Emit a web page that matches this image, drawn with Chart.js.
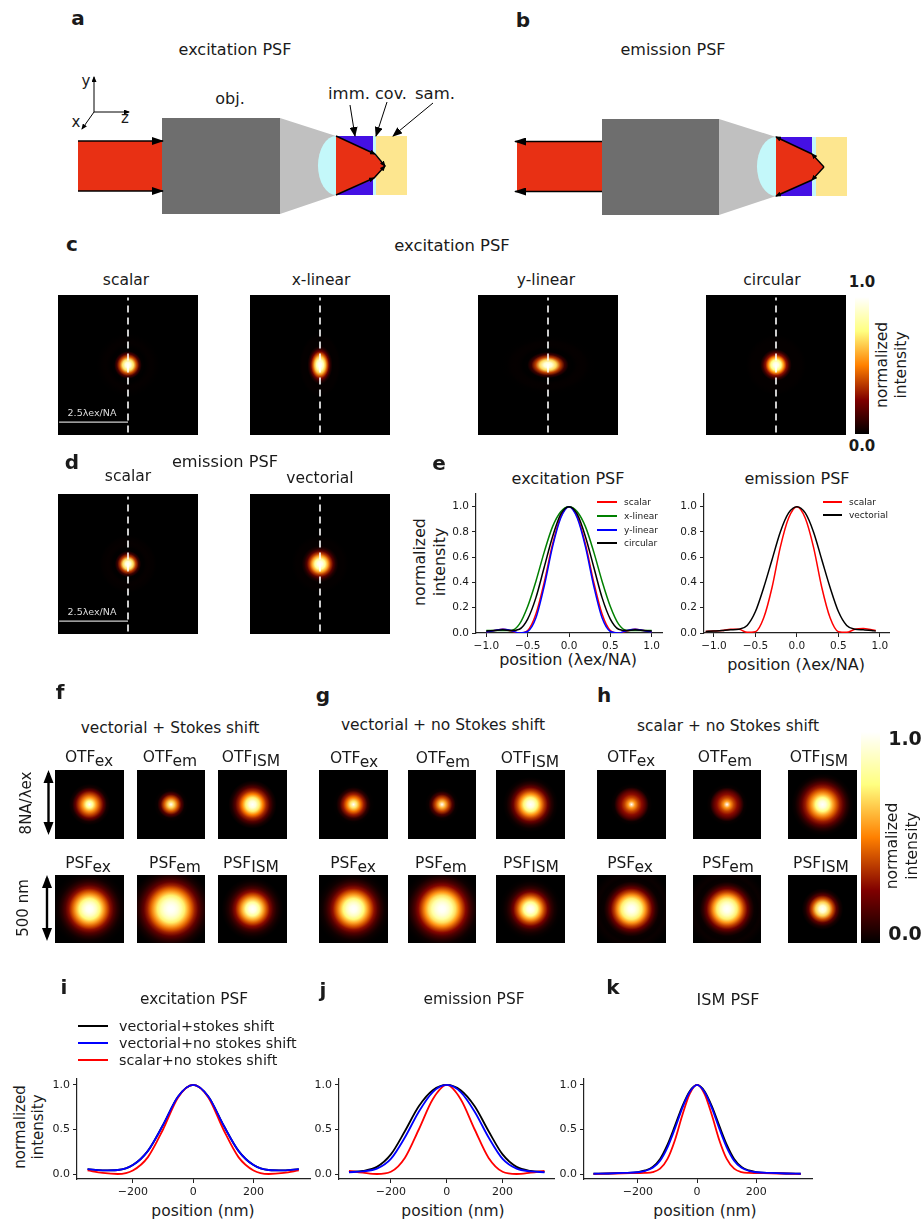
<!DOCTYPE html>
<html lang="en">
<head>
  <meta charset="UTF-8" />
  <title>PSF figure</title>
  <script src="https://cdn.jsdelivr.net/npm/chart.js"></script>
  <style>
    html, body { margin: 0; padding: 0; background: #fff; }
    body { font-family: 'DejaVu Sans', sans-serif; color: #1a1a1a; }
    #fig { position: relative; width: 924px; height: 1222px; overflow: hidden; }
    #fig canvas, #fig svg { position: absolute; }
    .t { position: absolute; white-space: nowrap; transform: translate(-50%, -50%); line-height: 1; }
    .sub { position: relative; top: 4px; }
    .swatch { position: absolute; }
  </style>
</head>
<body>
<div id="fig">
  <svg width="924" height="240" style="left:0;top:0">
    <defs>
      <marker id="head" markerWidth="10" markerHeight="8" refX="9" refY="4" orient="auto" markerUnits="userSpaceOnUse">
        <path d="M0,0 L10,4 L0,8 Z" fill="#000"/>
      </marker>
      <marker id="small" markerWidth="6" markerHeight="5" refX="5" refY="2.5" orient="auto" markerUnits="userSpaceOnUse">
        <path d="M0,0 L6,2.5 L0,5 Z" fill="#000"/>
      </marker>
      <marker id="big" markerWidth="12" markerHeight="8" refX="11" refY="4" orient="auto" markerUnits="userSpaceOnUse">
        <path d="M0,0 L12,4 L0,8 Z" fill="#000"/>
      </marker>
    </defs>
    <!-- a -->
    <rect x="78" y="141" width="84" height="50" fill="#e83014"/>
    <polygon points="280,118 336,136 336,195 280,214" fill="#c0c0c0"/>
    <rect x="162" y="118" width="118" height="96" fill="#6e6e6e"/>
    <path d="M336,136 A18,29.5 0 0 0 336,195 Z" fill="#c4f8fa"/>
    <rect x="336" y="136" width="37" height="59" fill="#4410e4"/>
    <rect x="373" y="136" width="3" height="59" fill="#c4f8fa"/>
    <rect x="376" y="136" width="31" height="59" fill="#fde68f"/>
    <polygon points="336,136 374,154 385,166 374,179 336,195" fill="#e83014"/>
    <g stroke="#000" stroke-width="1.4" fill="none">
      <line x1="78" y1="141" x2="163" y2="141" marker-end="url(#big)"/>
      <line x1="78" y1="191" x2="163" y2="191" marker-end="url(#big)"/>
      <polyline points="336,136 375,154" marker-end="url(#small)"/>
      <polyline points="375,154 385,166" marker-end="url(#small)"/>
      <polyline points="336,195 374,178" marker-end="url(#small)"/>
      <polyline points="374,178 385,166" marker-end="url(#small)"/>
    </g>
    <g stroke="#000" stroke-width="1" fill="none">
      <line x1="94" y1="112" x2="94" y2="77" marker-end="url(#small)"/>
      <line x1="94" y1="112" x2="129" y2="112" marker-end="url(#small)"/>
      <line x1="94" y1="112" x2="82" y2="129" marker-end="url(#small)"/>
      <line x1="350" y1="105" x2="355" y2="136" marker-end="url(#head)"/>
      <line x1="387" y1="102" x2="376" y2="136" marker-end="url(#head)"/>
      <line x1="433" y1="103" x2="393" y2="136" marker-end="url(#head)"/>
    </g>
    <!-- b -->
    <rect x="517" y="141" width="85" height="51" fill="#e83014"/>
    <polygon points="719,119 776,137 776,196 719,215" fill="#c0c0c0"/>
    <rect x="602" y="119" width="117" height="96" fill="#6e6e6e"/>
    <path d="M776,137 A19,29.5 0 0 0 776,196 Z" fill="#c4f8fa"/>
    <rect x="776" y="137" width="36" height="59" fill="#4410e4"/>
    <rect x="812" y="137" width="4" height="59" fill="#c4f8fa"/>
    <rect x="816" y="137" width="31" height="59" fill="#fde68f"/>
    <polygon points="776,137 812,154 824,167 812,180 776,196" fill="#e83014"/>
    <g stroke="#000" stroke-width="1.4" fill="none">
      <line x1="602" y1="141.5" x2="515" y2="141.5" marker-end="url(#big)"/>
      <line x1="602" y1="191.5" x2="515" y2="191.5" marker-end="url(#big)"/>
      <polyline points="824,167 812,154" marker-end="url(#small)"/>
      <polyline points="812,154 776,137" marker-end="url(#small)"/>
      <polyline points="824,167 812,180" marker-end="url(#small)"/>
      <polyline points="812,180 776,196" marker-end="url(#small)"/>
    </g>
  </svg>
  <!-- setas duplas do painel f -->
  <svg width="60" height="190" style="left:20px;top:760px">
    <g stroke="#000" stroke-width="2.4" fill="none">
      <line x1="28.5" y1="13" x2="28.5" y2="72"/>
      <line x1="27" y1="118" x2="27" y2="177"/>
    </g>
    <g fill="#000">
      <path d="M28.5,10 L23.5,23 L33.5,23 Z"/>
      <path d="M28.5,75 L23.5,62 L33.5,62 Z"/>
      <path d="M27,115 L22,128 L32,128 Z"/>
      <path d="M27,181 L22,168 L32,168 Z"/>
    </g>
  </svg>
</div>

<script>
  // perfis de linha, painel e
  const posE = [-1.0,-0.9,-0.8,-0.7,-0.6,-0.5,-0.4,-0.3,-0.2,-0.1,0,0.1,0.2,0.3,0.4,0.5,0.6,0.7,0.8,0.9,1.0];
  const exScalar  = [0.01,0.02,0.03,0.015,0,0.02,0.15,0.40,0.70,0.92,1,0.92,0.70,0.40,0.15,0.02,0,0.015,0.03,0.02,0.01];
  const exXLinear = [0.02,0.02,0.02,0.02,0.07,0.21,0.41,0.64,0.84,0.96,1,0.96,0.84,0.64,0.41,0.21,0.07,0.02,0.02,0.02,0.02];
  const exYLinear = [0.008,0.02,0.03,0.02,0,0.012,0.12,0.37,0.68,0.91,1,0.91,0.68,0.37,0.12,0.012,0,0.02,0.03,0.02,0.008];
  const exCircular = [0.015,0.02,0.025,0.02,0.03,0.11,0.28,0.52,0.76,0.94,1,0.94,0.76,0.52,0.28,0.11,0.03,0.02,0.025,0.02,0.015];

  const posEm = [-1.1,-1.0,-0.9,-0.8,-0.7,-0.6,-0.5,-0.4,-0.3,-0.2,-0.1,0,0.1,0.2,0.3,0.4,0.5,0.6,0.7,0.8,0.9,0.95];
  const emScalar = [0.012,0.015,0.02,0.03,0.03,0.005,0.01,0.12,0.36,0.68,0.91,1,0.91,0.68,0.36,0.12,0.01,0.005,0.03,0.035,0.025,0.02];
  const emVectorial = [0.012,0.015,0.02,0.025,0.03,0.06,0.17,0.36,0.58,0.80,0.95,1,0.95,0.80,0.58,0.36,0.17,0.06,0.03,0.025,0.02,0.015];

  const ticksEX = [-1,-0.5,0,0.5,1];
  const ticksEY = [0,0.2,0.4,0.6,0.8,1];

  // paineis i, j, k
  const posNm = [-350,-300,-250,-200,-150,-100,-50,0,50,100,150,200,250,300,350];
  const iVecStokes = [0.055,0.04,0.045,0.10,0.26,0.55,0.87,1,0.87,0.55,0.26,0.10,0.045,0.04,0.055];
  const iVecNoStokes = [0.055,0.04,0.045,0.10,0.26,0.55,0.87,1,0.87,0.55,0.26,0.10,0.045,0.04,0.055];
  const iScalar = [0.04,0.012,0,0.04,0.19,0.50,0.86,1,0.86,0.50,0.19,0.04,0,0.012,0.04];

  const jVecStokes = [0.025,0.035,0.08,0.22,0.48,0.76,0.94,1,0.94,0.76,0.48,0.22,0.08,0.035,0.025];
  const jVecNoStokes = [0.02,0.03,0.06,0.17,0.41,0.70,0.92,1,0.92,0.70,0.41,0.17,0.06,0.03,0.02];
  const jScalar = [0.035,0.015,0,0.025,0.18,0.50,0.84,1,0.84,0.50,0.18,0.025,0,0.015,0.035];

  const posNmK = [-350,-300,-250,-200,-175,-150,-125,-100,-75,-50,-25,0,25,50,75,100,125,150,175,200,250,300,350];
  const kVecStokes = [0.003,0.006,0.012,0.022,0.04,0.08,0.17,0.33,0.54,0.76,0.93,1,0.93,0.76,0.54,0.33,0.17,0.08,0.04,0.022,0.012,0.006,0.003];
  const kVecNoStokes = [0.003,0.006,0.012,0.02,0.035,0.07,0.15,0.30,0.51,0.74,0.92,1,0.92,0.74,0.51,0.30,0.15,0.07,0.035,0.02,0.012,0.006,0.003];
  const kScalar = [0.002,0.004,0.008,0.01,0.012,0.022,0.06,0.17,0.38,0.66,0.90,1,0.90,0.66,0.38,0.17,0.06,0.022,0.012,0.01,0.008,0.004,0.002];

  const ticksNmX = [-200,0,200];
  const ticksNmY = [0,0.5,1];

  // perfis radiais das imagens f, g, h (raio de 0 a ... em passos de 0.1 da meia largura)
  const fOtfEx  = [1,0.78,0.55,0.38,0.20,0.04,0];
  const fOtfEm  = [1,0.66,0.42,0.17,0.02,0];
  const fOtfIsm = [1,0.92,0.72,0.50,0.32,0.16,0.05,0];
  const fPsfEx  = [1,0.97,0.88,0.74,0.58,0.42,0.28,0.16,0.08,0.03,0.01,0];
  const fPsfEm  = [1,0.98,0.93,0.84,0.72,0.58,0.44,0.31,0.19,0.11,0.05,0.02,0];
  const fPsfIsm = [1,0.95,0.80,0.60,0.42,0.27,0.14,0.06,0.02,0];

  const gOtfEx  = [1,0.70,0.48,0.30,0.10,0.01,0];
  const gOtfEm  = [1,0.60,0.38,0.15,0.02,0];
  const gOtfIsm = [1,0.92,0.74,0.54,0.36,0.20,0.08,0.02,0];
  const gPsfEx  = [1,0.97,0.88,0.74,0.58,0.42,0.28,0.16,0.08,0.03,0.01,0];
  const gPsfEm  = [1,0.98,0.92,0.82,0.69,0.54,0.39,0.26,0.15,0.08,0.03,0.01,0];
  const gPsfIsm = [1,0.94,0.78,0.57,0.38,0.22,0.10,0.04,0.01,0];

  const hOtfEx  = [1,0.55,0.38,0.27,0.16,0.02,0];
  const hOtfEm  = [1,0.55,0.38,0.27,0.16,0.02,0];
  const hOtfIsm = [1,0.93,0.76,0.58,0.43,0.30,0.18,0.08,0.02,0];
  const hPsfEx  = [1,0.96,0.86,0.72,0.55,0.37,0.21,0.09,0.02,0.01,0.02,0.01,0];
  const hPsfEm  = [1,0.96,0.86,0.72,0.55,0.37,0.21,0.09,0.02,0.01,0.02,0.01,0];
  const hPsfIsm = [1,0.90,0.66,0.40,0.18,0.05,0];

  const barLevels = [0,0.25,0.5,0.75,1];

  Chart.defaults.font.family = "'DejaVu Sans', sans-serif";
  Chart.defaults.color = "#1a1a1a";
  Chart.defaults.animation = false;

  const fig = document.getElementById("fig");

  function novoCanvas(left, top, w, h) {
    const c = document.createElement("canvas");
    c.width = w; c.height = h;
    c.style.left = left + "px";
    c.style.top = top + "px";
    c.style.width = w + "px";
    c.style.height = h + "px";
    fig.appendChild(c);
    return c;
  }

  function texto(html, x, y, size, opts = {}) {
    const d = document.createElement("div");
    d.className = "t";
    d.innerHTML = html;
    d.style.left = x + "px";
    d.style.top = y + "px";
    d.style.fontSize = size + "px";
    if (opts.bold) d.style.fontWeight = "bold";
    if (opts.color) d.style.color = opts.color;
    if (opts.rot) d.style.transform = "translate(-50%, -50%) rotate(" + opts.rot + "deg)";
    fig.appendChild(d);
  }

  // mapa de cores afmhot
  function afmhot(v) {
    const c = a => Math.round(255 * Math.max(0, Math.min(1, a)));
    return `rgb(${c(2 * v)},${c(2 * v - 0.5)},${c(2 * v - 1)})`;
  }

  const pluginMancha = {
    id: "mancha",
    beforeDatasetsDraw(chart, args, opts) {
      const { ctx, chartArea: a, scales: { x, y } } = chart;
      const pts = chart.data.datasets[0].data;
      const cx = x.getPixelForValue(0), cy = y.getPixelForValue(0);
      const rMax = pts[pts.length - 1].x;
      const R = (x.getPixelForValue(rMax) - cx) * 1.15;
      ctx.save();
      ctx.beginPath();
      ctx.rect(a.left, a.top, a.width, a.height);
      ctx.clip();
      ctx.fillStyle = "#000";
      ctx.fillRect(a.left, a.top, a.width, a.height);
      ctx.translate(cx, cy);
      ctx.scale(opts.sx || 1, opts.sy || 1);
      const g = ctx.createRadialGradient(0, 0, 0, 0, 0, R);
      // os lobos laterais quase nao aparecem nas imagens
      const fraco = v => (opts.lobo && v < 0.06 ? v * opts.lobo : v);
      pts.forEach(p => g.addColorStop(p.x / rMax / 1.15, afmhot(fraco(p.v))));
      g.addColorStop(1, "#000");
      ctx.fillStyle = g;
      ctx.beginPath();
      ctx.arc(0, 0, R, 0, Math.PI * 2);
      ctx.fill();
      ctx.restore();
    }
  };

  const pluginBarra = {
    id: "barra",
    beforeDatasetsDraw(chart) {
      const { ctx, chartArea: a, scales: { y } } = chart;
      const y0 = y.getPixelForValue(0), y1 = y.getPixelForValue(1);
      const g = ctx.createLinearGradient(0, y0, 0, y1);
      barLevels.forEach(v => g.addColorStop(v, afmhot(v)));
      ctx.fillStyle = g;
      ctx.fillRect(a.left, y1, a.width, y0 - y1);
    }
  };

  const eixoOculto = (min, max) => ({ type: "linear", display: false, min, max });

  function imagem(left, top, w, h, perfil, raios, lim, extras = [], mancha = {}) {
    const dados = perfil.map((v, i) => ({ x: raios[i], y: 0, v }));
    new Chart(novoCanvas(left, top, w, h), {
      type: "scatter",
      data: { datasets: [{ data: dados, pointRadius: 0 }, ...extras] },
      options: {
        responsive: false,
        layout: { padding: 0 },
        scales: { x: eixoOculto(-lim, lim), y: eixoOculto(-lim, lim) },
        plugins: { legend: { display: false }, tooltip: { enabled: false }, mancha }
      },
      plugins: [pluginMancha]
    });
  }

  function barraCor(left, top, w, h) {
    new Chart(novoCanvas(left, top, w, h), {
      type: "scatter",
      data: { datasets: [{ data: barLevels.map(v => ({ x: 0, y: v })), pointRadius: 0 }] },
      options: {
        responsive: false,
        layout: { padding: 0 },
        scales: { x: eixoOculto(-1, 1), y: eixoOculto(0, 1) },
        plugins: { legend: { display: false }, tooltip: { enabled: false } }
      },
      plugins: [pluginBarra]
    });
  }

  // o primeiro dataset da lista fica por cima no Chart.js
  function grafico(box, xs, series, lx, ly, ticksX, ticksY, decX, fonte, lw) {
    const L = 46, T = 14, R = 14, B = 26;
    const w = box.right - box.left + L + R, h = box.bottom - box.top + T + B;
    const eixo = (min, max, lista, dec, sz) => ({
      type: "linear", min, max,
      border: { display: true, color: "#222", width: 1.2 },
      grid: { display: true, drawOnChartArea: false, drawTicks: true, tickLength: 4, tickColor: "#222", tickWidth: 1 },
      afterBuildTicks: s => { s.ticks = lista.map(value => ({ value })); },
      ticks: {
        autoSkip: false, maxRotation: 0, padding: 3,
        font: { size: fonte }, color: "#1a1a1a",
        callback: v => v.toFixed(dec).replace("-", "\u2212")
      },
      afterFit: sz
    });
    new Chart(novoCanvas(box.left - L, box.top - T, w, h), {
      type: "line",
      data: {
        datasets: series.map(s => ({
          data: xs.map((x, i) => ({ x, y: s.data[i] })),
          borderColor: s.color,
          borderWidth: lw,
          pointRadius: 0,
          cubicInterpolationMode: "monotone"
        }))
      },
      options: {
        responsive: false,
        layout: { padding: { top: T, right: R, left: 0, bottom: 0 } },
        scales: {
          x: eixo(lx[0], lx[1], ticksX, decX, s => { s.height = B; }),
          y: eixo(ly[0], ly[1], ticksY, 1, s => { s.width = L; })
        },
        plugins: { legend: { display: false }, tooltip: { enabled: false } }
      }
    });
  }

  function legenda(itens, x0, x1, xt, ys, size, lw) {
    itens.forEach((it, i) => {
      const s = document.createElement("div");
      s.className = "swatch";
      s.style.cssText = `left:${x0}px;top:${ys[i] - lw / 2}px;width:${x1 - x0}px;height:${lw}px;background:${it[1]}`;
      fig.appendChild(s);
      const d = document.createElement("div");
      d.className = "t";
      d.innerHTML = it[0];
      d.style.cssText = `left:${xt}px;top:${ys[i]}px;font-size:${size}px;transform:translateY(-50%)`;
      fig.appendChild(d);
    });
  }

  // painel a, b
  texto("a", 78, 18, 20, { bold: true });
  texto("b", 523, 20, 20, { bold: true });
  texto("excitation PSF", 235, 50, 16);
  texto("emission PSF", 673, 50, 16);
  texto("obj.", 230, 99, 16);
  texto("imm.", 349, 94, 16.5);
  texto("cov.", 391, 94, 16);
  texto("sam.", 435, 94, 16.5);
  texto("y", 86, 81, 15);
  texto("z", 125, 118, 15);
  texto("x", 76, 122, 15);

  // paineis c, d
  const metade = (xs, ys) => ys.filter((_, i) => xs[i] >= 0);
  const raiosE = [0,0.1,0.2,0.3,0.4,0.5,0.6,0.7,0.8,0.9,1.0];
  const raiosEm = [0,0.1,0.2,0.3,0.4,0.5,0.6,0.7,0.8,0.9,0.95];
  const limPsf = 2.54;
  const corte = { type: "scatter", showLine: true, data: [{ x: 0, y: -2.45 }, { x: 0, y: 2.45 }], borderColor: "#fff", borderWidth: 1.6, borderDash: [7, 5], pointRadius: 0 };
  const escala = { type: "scatter", showLine: true, data: [{ x: -2.5, y: -2.07 }, { x: 0, y: -2.07 }], borderColor: "#cfcfcf", borderWidth: 1.2, pointRadius: 0 };

  texto("c", 72, 244, 20, { bold: true });
  texto("excitation PSF", 452, 246, 16.4);
  imagem(58, 295, 140, 140, metade(posE, exScalar), raiosE, limPsf, [corte, escala], { sx: 1, sy: 1, lobo: 0.35 });
  imagem(250, 295, 140, 140, metade(posE, exXLinear), raiosE, limPsf, [corte], { sx: 0.65, sy: 1, lobo: 0.35 });
  imagem(478, 295, 140, 140, metade(posE, exYLinear), raiosE, limPsf, [corte], { sx: 1.5, sy: 0.95, lobo: 0.35 });
  imagem(706, 295, 140, 140, metade(posE, exCircular), raiosE, limPsf, [corte], { sx: 0.95, sy: 0.95, lobo: 0.35 });
  texto("scalar", 126, 281, 15.5);
  texto("x-linear", 321, 281, 15.5);
  texto("y-linear", 546, 281, 15.5);
  texto("circular", 772, 281, 15.5);
  texto("2.5\u03bbex/NA", 92, 413, 9.5, { color: "#ddd" });
  barraCor(855, 297, 14, 137);
  texto("1.0", 862, 282, 15, { bold: true });
  texto("0.0", 862, 446, 15, { bold: true });
  texto("normalized", 883, 365, 15.5, { rot: -90 });
  texto("intensity", 902, 365, 15.5, { rot: -90 });

  texto("d", 72, 462, 20, { bold: true });
  texto("emission PSF", 225, 462, 16.2);
  imagem(58, 494, 140, 140, metade(posEm, emScalar), raiosEm, limPsf, [corte, escala], { sx: 0.95, sy: 0.95, lobo: 0.35 });
  imagem(250, 494, 140, 140, metade(posEm, emVectorial), raiosEm, limPsf, [corte], { sx: 0.95, sy: 0.95, lobo: 0.35 });
  texto("scalar", 128, 477, 15.5);
  texto("vectorial", 320, 479, 15.5);
  texto("2.5\u03bbex/NA", 92, 612, 9.5, { color: "#ddd" });

  // painel e
  texto("e", 439, 463, 20, { bold: true });
  texto("excitation PSF", 568, 479, 16);
  texto("emission PSF", 797, 479, 16);
  texto("normalized", 420, 562, 15.8, { rot: -90 });
  texto("intensity", 440, 562, 15.8, { rot: -90 });
  texto("position (\u03bbex/NA)", 568, 660, 16);
  texto("position (\u03bbex/NA)", 796, 665, 16);
  grafico({ left: 476, right: 662, top: 494, bottom: 633 }, posE, [
    { data: exCircular, color: "#000000" },
    { data: exYLinear, color: "#0000ff" },
    { data: exXLinear, color: "#008000" },
    { data: exScalar, color: "#ff0000" }
  ], [-1.125, 1.125], [0, 1.1], ticksEX, ticksEY, 1, 10.5, 1.5);
  grafico({ left: 704, right: 889, top: 494, bottom: 633 }, posEm, [
    { data: emVectorial, color: "#000000" },
    { data: emScalar, color: "#ff0000" }
  ], [-1.12, 1.11], [0, 1.1], ticksEX, ticksEY, 1, 10.5, 1.5);
  legenda([["scalar", "#ff0000"], ["x-linear", "#008000"], ["y-linear", "#0000ff"], ["circular", "#000"]], 597, 617, 624, [502, 516, 530, 543], 9, 1.5);
  legenda([["scalar", "#ff0000"], ["vectorial", "#000"]], 823, 842, 849, [502, 515], 9, 1.5);

  // paineis f, g, h
  const raiosImg = [0,0.1,0.2,0.3,0.4,0.5,0.6,0.7,0.8,0.9,1.0,1.1,1.2];
  const linha1 = 770, linha2 = 875;
  function grupo(xs, otf, psf, labelsTop, labelsBot) {
    const nomes = ["ex", "em", "ISM"];
    xs.forEach((x, i) => {
      imagem(x[0], linha1, x[1], 69, otf[i], raiosImg, 1);
      imagem(x[0], linha2, x[1], 68, psf[i], raiosImg, 1);
      texto(`OTF<span class="sub">${nomes[i]}</span>`, labelsTop[i][0], labelsTop[i][1], 15.5);
      texto(`PSF<span class="sub">${nomes[i]}</span>`, labelsBot[i][0], labelsBot[i][1], 15.5);
    });
  }

  texto("f", 60, 692, 20, { bold: true });
  texto("vectorial + Stokes shift", 170, 729, 15.4);
  grupo([[55, 69], [137, 68], [218, 69]],
    [fOtfEx, fOtfEm, fOtfIsm], [fPsfEx, fPsfEm, fPsfIsm],
    [[89, 758], [170, 758], [251, 758]], [[88, 864], [175, 864], [251, 864]]);

  texto("g", 323, 695, 20, { bold: true });
  texto("vectorial + no Stokes shift", 443, 726, 15.5);
  grupo([[319, 69], [408, 68], [496, 69]],
    [gOtfEx, gOtfEm, gOtfIsm], [gPsfEx, gPsfEm, gPsfIsm],
    [[354, 759], [443, 759], [530, 759]], [[353, 864], [441, 864], [531, 864]]);

  texto("h", 604, 695, 20, { bold: true });
  texto("scalar + no Stokes shift", 728, 727, 15.4);
  grupo([[597, 69], [693, 68], [788, 69]],
    [hOtfEx, hOtfEm, hOtfIsm], [hPsfEx, hPsfEm, hPsfIsm],
    [[631, 758], [725, 758], [819, 758]], [[630, 864], [728, 864], [821, 864]]);

  barraCor(861, 732, 19, 211);
  texto("1.0", 905, 738, 19, { bold: true });
  texto("0.0", 905, 933, 19, { bold: true });
  texto("normalized", 893, 846, 15.6, { rot: -90 });
  texto("intensity", 913, 846, 15.6, { rot: -90 });
  texto("8NA/\u03bbex", 26, 803, 15, { rot: -90 });
  texto("500 nm", 23, 908, 15, { rot: -90 });

  // paineis i, j, k
  const cores = { stokes: "#000000", noStokes: "#0000ff", scalar: "#ff0000" };
  const ly = [-0.056, 1.067];
  texto("i", 64, 987, 20, { bold: true });
  texto("j", 323, 990, 20, { bold: true });
  texto("k", 613, 987, 20, { bold: true });
  texto("excitation PSF", 194, 1000, 15.3);
  texto("emission PSF", 474, 1000, 15.4);
  texto("ISM PSF", 728, 1000, 16);
  texto("normalized", 20, 1127, 15, { rot: -90 });
  texto("intensity", 38, 1127, 15, { rot: -90 });
  texto("position (nm)", 203, 1212, 15.5);
  texto("position (nm)", 453, 1212, 15.5);
  texto("position (nm)", 705, 1212, 15.5);
  legenda([["vectorial+stokes shift", cores.stokes], ["vectorial+no stokes shift", cores.noStokes], ["scalar+no stokes shift", cores.scalar]],
    78, 108, 119, [1026, 1043, 1060], 14.3, 2);

  grafico({ left: 77, right: 310, top: 1079, bottom: 1179 }, posNm, [
    { data: iVecNoStokes, color: cores.noStokes },
    { data: iScalar, color: cores.scalar },
    { data: iVecStokes, color: cores.stokes }
  ], [-385, 387], ly, ticksNmX, ticksNmY, 0, 11, 1.8);
  grafico({ left: 339, right: 554, top: 1079, bottom: 1179 }, posNm, [
    { data: jVecNoStokes, color: cores.noStokes },
    { data: jScalar, color: cores.scalar },
    { data: jVecStokes, color: cores.stokes }
  ], [-385.7, 384], ly, ticksNmX, ticksNmY, 0, 11, 1.8);
  grafico({ left: 584, right: 812, top: 1079, bottom: 1179 }, posNmK, [
    { data: kVecNoStokes, color: cores.noStokes },
    { data: kScalar, color: cores.scalar },
    { data: kVecStokes, color: cores.stokes }
  ], [-382, 388], ly, ticksNmX, ticksNmY, 0, 11, 1.8);
</script>
</body>
</html>
